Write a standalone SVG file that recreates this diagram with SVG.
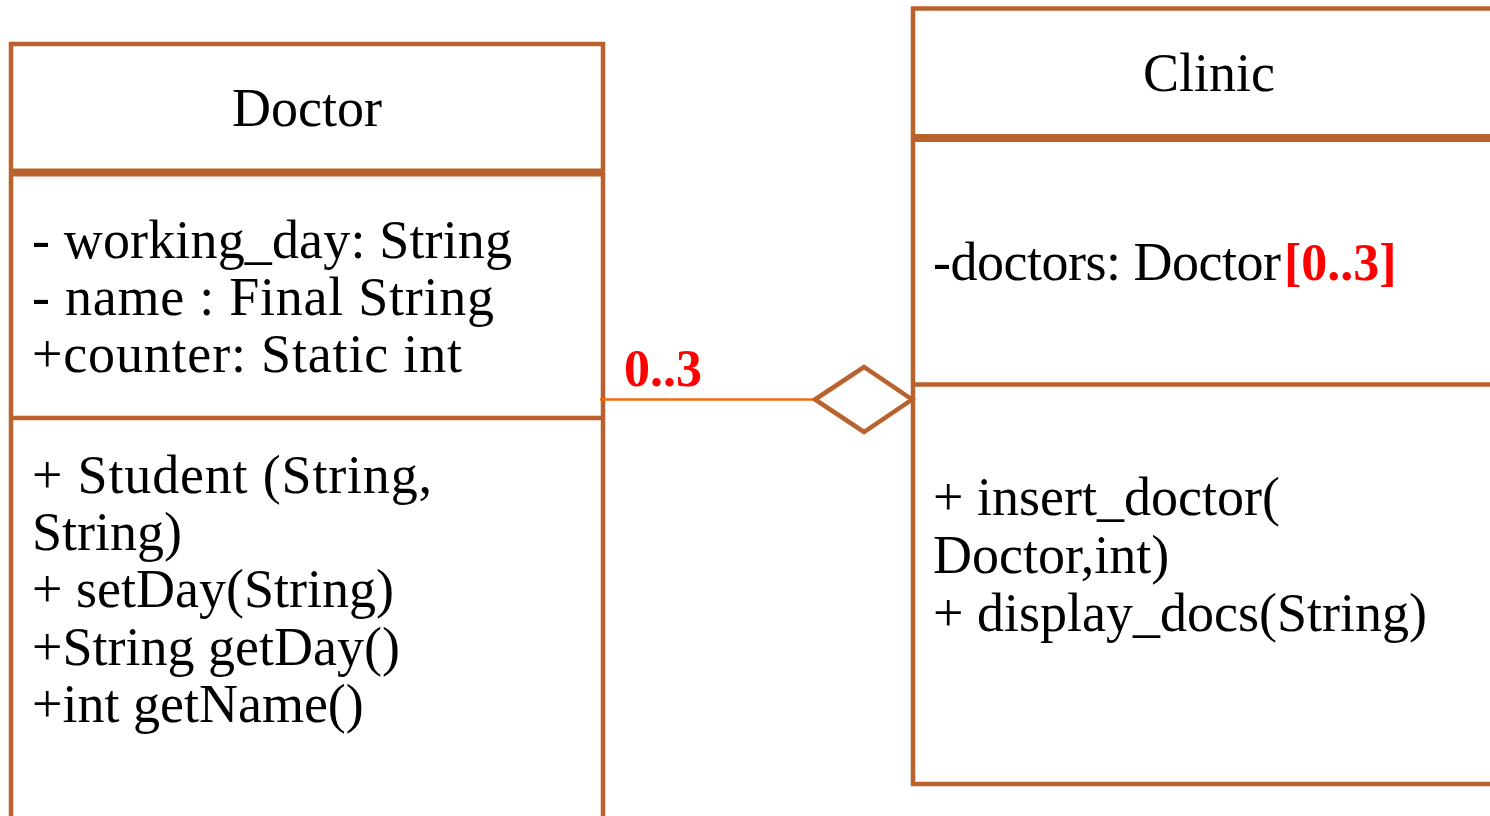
<svg xmlns="http://www.w3.org/2000/svg" width="1490" height="816" viewBox="0 0 1490 816">
  <style>
    .box { fill: #FFFFFF; stroke: #BA622E; stroke-width: 4.5; }
    .thick { stroke: #BA622E; stroke-width: 8; }
    .thin { stroke: #BA622E; stroke-width: 4.5; }
    .t { font-family: "Liberation Serif", "Times New Roman", serif; font-size: 54px; fill: #000000; }
    .red { font-family: "Liberation Serif", "Times New Roman", serif; font-weight: bold; font-size: 52px; fill: #FF0000; }
    .conn { stroke: #F26B12; stroke-width: 2.5; fill: none; }
    .diamond { fill: #FFFFFF; stroke: #BA622E; stroke-width: 4.5; stroke-linejoin: miter; }
  </style>
  <rect width="1490" height="816" fill="#FFFFFF"/>

  <g id="doctor">
    <rect class="box" x="11" y="44" width="592" height="800"/>
    <line class="thick" x1="9" y1="172.5" x2="605" y2="172.5"/>
    <line class="thin" x1="9" y1="418" x2="605" y2="418"/>
    <text class="t" x="307" y="126" text-anchor="middle">Doctor</text>
    <text class="t" x="32" y="258" textLength="480" lengthAdjust="spacing">- working_day: String</text>
    <text class="t" x="32" y="315" textLength="462" lengthAdjust="spacing">- name : Final String</text>
    <text class="t" x="32" y="372" textLength="430" lengthAdjust="spacing">+counter: Static int</text>
    <text class="t" x="32" y="493" textLength="400" lengthAdjust="spacing">+ Student (String,</text>
    <text class="t" x="32" y="550">String)</text>
    <text class="t" x="32" y="607">+ setDay(String)</text>
    <text class="t" x="32" y="665">+String getDay()</text>
    <text class="t" x="32" y="722">+int getName()</text>
  </g>

  <g id="clinic">
    <rect class="box" x="913" y="8.5" width="600" height="775.5"/>
    <line class="thick" x1="911" y1="138" x2="1495" y2="138"/>
    <line class="thin" x1="911" y1="384.5" x2="1495" y2="384.5"/>
    <text class="t" x="1209" y="91" text-anchor="middle">Clinic</text>
    <text class="t" x="933" y="280" textLength="348" lengthAdjust="spacing">-doctors: Doctor</text>
    <text class="red" x="1284" y="280">[0..3]</text>
    <text class="t" x="933" y="515">+ insert_doctor(</text>
    <text class="t" x="933" y="573">Doctor,int)</text>
    <text class="t" x="933" y="631">+ display_docs(String)</text>
  </g>

  <g id="connectors">
    <line class="conn" x1="600" y1="399.5" x2="815" y2="399.5"/>
    <polygon class="diamond" points="815,399.5 864,367 912,399.5 864,432"/>
    <text class="red" x="624" y="386">0..3</text>
  </g>
</svg>
